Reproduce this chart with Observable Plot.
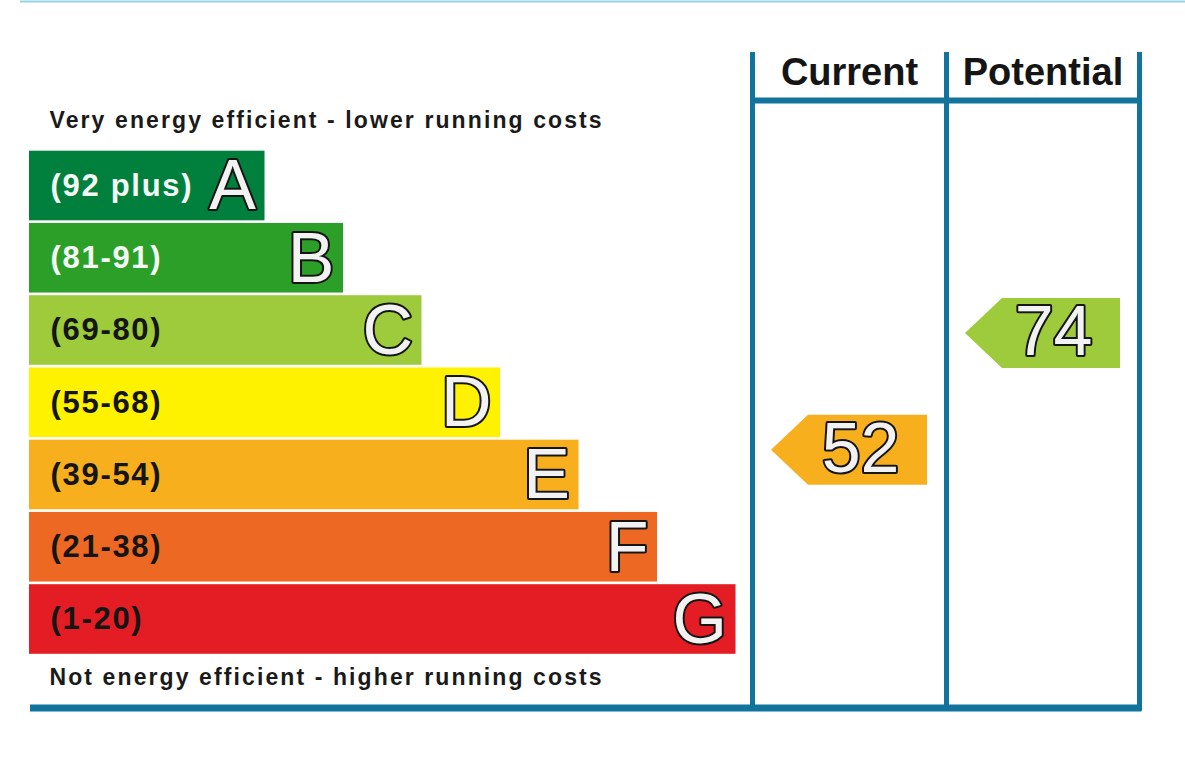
<!DOCTYPE html>
<html>
<head>
<meta charset="utf-8">
<script src="https://cdn.jsdelivr.net/npm/d3@7"></script>
<script src="https://cdn.jsdelivr.net/npm/@observablehq/plot@0.6"></script>
<style>
  html, body { margin: 0; padding: 0; background: #ffffff; }
  #chart svg { display: block; }
</style>
</head>
<body>
<div id="chart"></div>
<script>
// ---- Data ----
const letters = ["A", "B", "C", "D", "E", "F", "G"];
const rangeLabels = ["(92 plus)", "(81-91)", "(69-80)", "(55-68)", "(39-54)", "(21-38)", "(1-20)"];
const rangeLows = [92, 81, 69, 55, 39, 21, 1];
const rangeHighs = [100, 91, 80, 68, 54, 38, 20];
const bandColors = ["#007f3d", "#2c9f29", "#9dcb3c", "#fff200", "#f7af1d", "#ed6823", "#e31d23"];
const columnNames = ["Current", "Potential"];
const ratings = [52, 74];
const topNote = "Very energy efficient - lower running costs";
const bottomNote = "Not energy efficient - higher running costs";

// ---- Layout (pixel units, identity scales) ----
const W = 1185, H = 766;
const L = {
  barX0: 29, barStep: 78.5, barMinSteps: 3,
  rowY0: 185.5, rowStep: 72.25, barHalf: 34.8,
  colLines: [752, 946, 1139], frameTop: 52, headerY: 100, bottomY: 707.5,
  arrowPad: 17, arrowTip: 37, arrowHalf: 35
};
const FONT = "'Liberation Sans', Arial, Helvetica, sans-serif";
const FRAME = "#12739d";

const rowY = r => L.rowY0 + L.rowStep * r;

const bands = letters.map((letter, i) => ({
  i, letter, label: rangeLabels[i], lo: rangeLows[i], hi: rangeHighs[i]
}));

function bandOf(v) { return bands.find(b => v >= b.lo && v <= b.hi); }

const arrows = ratings.map((v, k) => {
  const b = bandOf(v);
  const row = b.i - 0.5 + (b.hi - v + 0.5) / (b.hi - b.lo + 1);
  const cy = rowY(row);
  const left = L.colLines[k] + 2 + L.arrowPad;
  const right = L.colLines[k + 1] - 2 - L.arrowPad;
  return { k, v, letter: b.letter, cy, left, right, notch: left + L.arrowTip };
});
const arrowPts = arrows.flatMap(a => [
  { k: a.k, letter: a.letter, y: a.cy - L.arrowHalf, x1: a.notch, x2: a.right },
  { k: a.k, letter: a.letter, y: a.cy, x1: a.left, x2: a.right },
  { k: a.k, letter: a.letter, y: a.cy + L.arrowHalf, x1: a.notch, x2: a.right }
]);

const headers = columnNames.map((name, k) => ({ name, x: (L.colLines[k] + L.colLines[k + 1]) / 2 }));
const barEnd = d => L.barX0 + L.barStep * (d.i + L.barMinSteps);

const chart = Plot.plot({
  width: W, height: H, margin: 0,
  x: { domain: [0, W], range: [0, W], axis: null },
  y: { domain: [0, H], range: [0, H], axis: null },
  color: { domain: letters, range: bandColors },
  style: { background: "#ffffff" },
  marks: [
    // top thin line
    Plot.ruleY([1], { x1: () => 20, x2: () => W, stroke: "#93d3e3", strokeWidth: 2 }),
    // bands
    Plot.rectX(bands, {
      x1: () => L.barX0, x2: barEnd,
      y1: d => rowY(d.i) - L.barHalf, y2: d => rowY(d.i) + L.barHalf,
      fill: "letter"
    }),
    Plot.text(bands, {
      x: () => L.barX0 + 21, y: d => rowY(d.i), text: "label",
      textAnchor: "start", lineAnchor: "middle",
      fill: d => d.i < 2 ? "#f4faf4" : "#151515",
      fontSize: 31, fontWeight: "bold", fontFamily: FONT
    }),
    Plot.text(bands, {
      x: barEnd, y: d => rowY(d.i) + 1, text: "letter", dx: -9,
      textAnchor: "end", lineAnchor: "middle",
      fill: "#f2f2f2", stroke: "#151515", strokeWidth: 4, paintOrder: "stroke",
      fontSize: 70, fontFamily: FONT
    }),
    // notes
    Plot.text([topNote], {
      x: () => 49, y: () => 120, text: d => d, textAnchor: "start", lineAnchor: "middle",
      fill: "#1a1a1a", fontSize: 23, fontWeight: "bold", fontFamily: FONT
    }),
    Plot.text([bottomNote], {
      x: () => 49, y: () => 677, text: d => d, textAnchor: "start", lineAnchor: "middle",
      fill: "#1a1a1a", fontSize: 23, fontWeight: "bold", fontFamily: FONT
    }),
    // frame
    Plot.ruleX(L.colLines, { x: d => d, y1: () => L.frameTop, y2: () => L.bottomY + 3, stroke: FRAME, strokeWidth: 5 }),
    Plot.ruleY([L.headerY], { y: d => d, x1: () => L.colLines[0], x2: () => L.colLines[2], stroke: FRAME, strokeWidth: 6 }),
    Plot.ruleY([L.bottomY], { y: d => d, x1: () => 30, x2: () => L.colLines[2] + 2.5, stroke: FRAME, strokeWidth: 7 }),
    Plot.text(headers, {
      x: "x", y: () => 72, text: "name", lineAnchor: "middle",
      fill: "#151515", fontSize: 38, fontWeight: "bold", fontFamily: FONT
    }),
    // rating arrows
    Plot.areaX(arrowPts, { y: "y", x1: "x1", x2: "x2", z: "k", fill: "letter", curve: "linear" }),
    Plot.text(arrows, {
      x: d => d.right, y: d => d.cy - 1, text: d => String(d.v), dx: -28,
      textAnchor: "end", lineAnchor: "middle",
      fill: "#f2f2f2", stroke: "#151515", strokeWidth: 4, paintOrder: "stroke",
      fontSize: 70, fontFamily: FONT
    })
  ]
});
// widen the condensed-looking captions and band labels to match the original artwork
d3.select(chart).selectAll("text").each(function () {
  const t = this.textContent;
  if (t === topNote || t === bottomNote) this.setAttribute("letter-spacing", "2.1");
  else if (rangeLabels.includes(t)) this.setAttribute("letter-spacing", "1.7");
});
document.getElementById("chart").appendChild(chart);
</script>
</body>
</html>
